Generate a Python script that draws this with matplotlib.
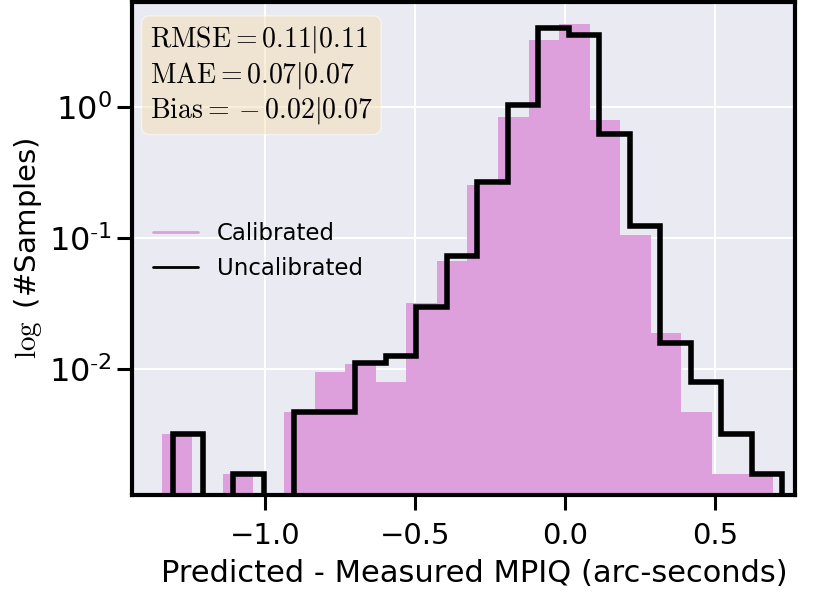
import numpy as np
import matplotlib
matplotlib.use("Agg")
import matplotlib.pyplot as plt
import seaborn as sns

sns.set_style("darkgrid")
plt.rcParams['mathtext.fontset'] = 'cm'
plt.rcParams['font.family'] = ['DejaVu Sans']
plt.rcParams['text.color'] = 'black'
plt.rcParams['axes.labelcolor'] = 'black'
plt.rcParams['xtick.color'] = 'black'
plt.rcParams['ytick.color'] = 'black'

# histogram densities (20 bins each)
cal_edges = np.linspace(-1.344, 0.694, 21)
cal_density = [0.00315, 0, 0.00156, 0, 0.0047, 0.0094, 0.0108, 0.0079, 0.0316, 0.067,
               0.254, 0.848, 3.26, 4.38, 0.80, 0.106, 0.0188, 0.0047, 0.00156, 0.00156]

uncal_edges = np.linspace(-1.308, 0.724, 21)
uncal_density = [0.00315, 0, 0.00157, 0, 0.0047, 0.0047, 0.0110, 0.0126, 0.0297, 0.0724,
                 0.267, 1.04, 4.08, 3.56, 0.622, 0.124, 0.0158, 0.0079, 0.00315, 0.00156]

ytick_vals = [1, 0.1, 0.01]
ytick_labels = [r'$\mathdefault{10^{0}}$', r'$\mathdefault{10^{\text{-}1}}$',
                r'$\mathdefault{10^{\text{-}2}}$']

stats_text = '\n'.join([
    r'$\mathrm{RMSE} = 0.11 | 0.11$',
    r'$\mathrm{MAE} = 0.07 | 0.07$',
    r'$\mathrm{Bias} = {} - 0.02 | 0.07$',
])

fig = plt.figure(figsize=(8.15, 5.93), dpi=100)
ax = fig.add_axes([0.162, 0.165, 0.8135, 0.8316])

ax.hist(cal_edges[:-1], bins=cal_edges, weights=cal_density, color='plum',
        edgecolor='none', linewidth=0, label='Calibrated')
ax.hist(uncal_edges[:-1], bins=uncal_edges, weights=uncal_density, histtype='step',
        color='black', linewidth=4, label='Uncalibrated')
ax.set_yscale('log')
ax.set_xlim(-1.443, 0.767)
ax.set_ylim(0.00108, 6.4)
ax.set_yticks(ytick_vals, ytick_labels)
ax.minorticks_off()

for s in ax.spines.values():
    s.set_color('black')
    s.set_linewidth(3)
ax.tick_params(axis='both', which='major', length=11, width=2.2, color='black',
               direction='out', bottom=True, left=True)
ax.tick_params(axis='x', labelsize=21, pad=8)
ax.tick_params(axis='y', labelsize=23)
ax.grid(True, color='white', linewidth=1.5)

ax.set_xlabel('Predicted - Measured MPIQ (arc-seconds)', fontsize=22)
ax.xaxis.set_label_coords(0.517, -0.13)
ax.set_ylabel(r'$\log$ (#Samples)', fontsize=21)

ax.text(0.027, 0.955, stats_text, transform=ax.transAxes, fontsize=20,
        va='top', ha='left',
        bbox=dict(boxstyle='round', facecolor='wheat', alpha=0.5))

h1 = plt.Line2D([], [], color='plum', linewidth=2)
h2 = plt.Line2D([], [], color='black', linewidth=2)
ax.legend([h1, h2], ['Calibrated', 'Uncalibrated'], loc='center left',
          frameon=False, fontsize=16.5, bbox_to_anchor=(0.0, 0.495))

fig.savefig('out.png', dpi=100)
